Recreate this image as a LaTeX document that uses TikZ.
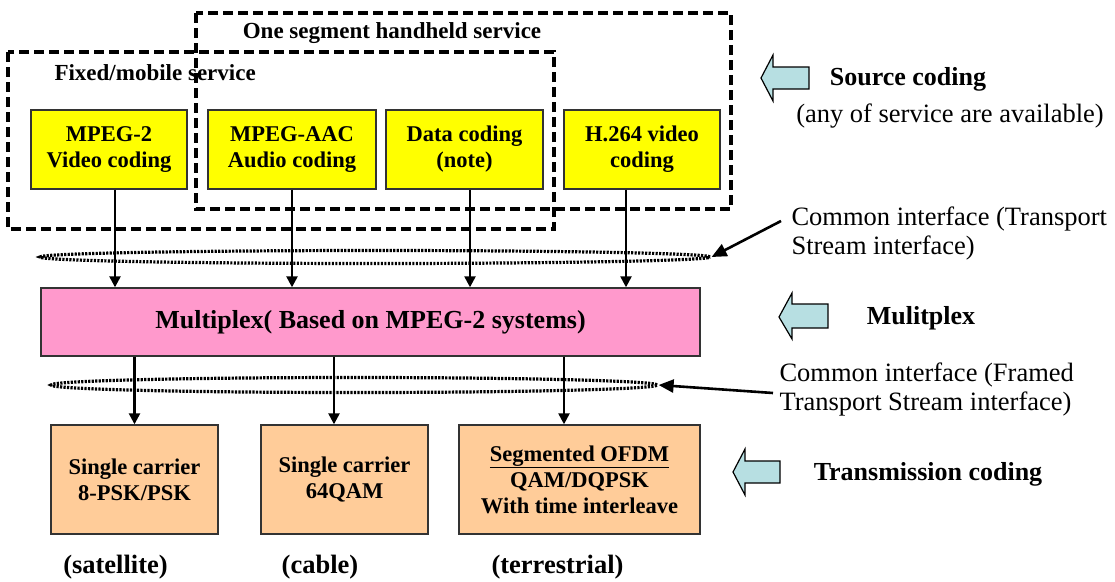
\documentclass[tikz,border=0pt]{standalone}
\usepackage{fontspec}
\setmainfont{Liberation Serif}
\usetikzlibrary{shapes.geometric,arrows.meta}
\newcommand\setfs[2]{\fontsize{#1}{#2}\selectfont}
\definecolor{yel}{HTML}{FFFF00}
\definecolor{pinkmux}{HTML}{FF99CC}
\definecolor{orng}{HTML}{FFCC99}
\definecolor{blk}{HTML}{B7DFE2}
\begin{document}
\begin{tikzpicture}[x=1pt,y=-1pt,
  dashbox/.style={line width=3.4pt,dash pattern=on 10pt off 5pt},
  ybox/.style={draw=black!80,line width=1.4pt,fill=yel,inner sep=0pt,minimum height=79pt,align=center,font=\setfs{22.5}{26}\bfseries},
  obox/.style={draw=black!80,line width=1.4pt,fill=orng,inner sep=0pt,minimum height=109pt,align=center,font=\setfs{22.5}{26}\bfseries},
  dotell/.style={ellipse,draw,line width=3.2pt,dash pattern=on 2.2pt off 1.3pt,inner sep=0pt},
  arr/.style={line width=2.4pt,-{Triangle[length=11pt,width=11pt]}},
  tarr/.style={line width=2.6pt,-{Triangle[length=15pt,width=13pt]}},
  blockarr/.style={draw=black,line width=1.2pt,fill=blk,line join=miter},
  hd/.style={font=\setfs{26}{29}\bfseries},
  rg/.style={font=\setfs{26.5}{29}},
  lbl/.style={font=\setfs{23}{26}\bfseries}
]
\useasboundingbox (0,0) rectangle (1115,581);
% service containers
\draw[dashbox] (8,52) rectangle (554,229);
\draw[dashbox] (196,13) rectangle (731,209);
\node[lbl] (seglbl) at (392,33) {One segment handheld service};
\node[lbl,anchor=west] (fixlbl) at (51,73) {Fixed/mobile service};
% source coding boxes
\node[ybox,minimum width=156pt] (m2) at (109,149.5) {MPEG-2\\Video coding};
\node[ybox,minimum width=168pt] (aac) at (292,149.5) {MPEG-AAC\\Audio coding};
\node[ybox,minimum width=157pt] (dat) at (464.5,149.5) {Data coding\\(note)};
\node[ybox,minimum width=156pt] (h264) at (642,149.5) {H.264 video\\coding};
% multiplex
\node[draw=black!80,line width=1.4pt,fill=pinkmux,inner sep=0pt,minimum width=659pt,minimum height=68pt,font=\setfs{26}{29}\bfseries] (mux) at (370.5,322) {Multiplex( Based on MPEG-2 systems)};
% transmission boxes
\node[obox,minimum width=167pt] (sat) at (134.5,479.5) {Single carrier\\8-PSK/PSK};
\node[obox,minimum width=167pt] (cab) at (344.5,479.5) {Single carrier\\64QAM};
\node[obox,minimum width=241pt] (ter) at (579.5,479.5) {\underline{Segmented OFDM}\\QAM/DQPSK\\With time interleave};
% interfaces
\node[dotell,minimum width=670pt,minimum height=13pt] (ell1) at (375,257) {};
\node[dotell,minimum width=606pt,minimum height=15pt] (ell2) at (354,385) {};
% vertical connectors
\draw[arr] ([xshift=6pt]m2.south) -- ([xshift=6pt]m2.south |- mux.north);
\draw[arr] (aac.south) -- (aac.south |- mux.north);
\draw[arr] ([xshift=5.5pt]dat.south) -- ([xshift=5.5pt]dat.south |- mux.north);
\draw[arr] ([xshift=-16pt]h264.south) -- ([xshift=-16pt]h264.south |- mux.north);
\draw[arr] (sat.north |- mux.south) -- (sat.north);
\draw[arr] ([xshift=-10.5pt]cab.north |- mux.south) -- ([xshift=-10.5pt]cab.north);
\draw[arr] ([xshift=-15.5pt]ter.north |- mux.south) -- ([xshift=-15.5pt]ter.north);
% bottom labels
\node[font=\setfs{26.5}{29}\bfseries] (lsat) at (115.5,567) {(satellite)};
\node[font=\setfs{26.5}{29}\bfseries] (lcab) at (320,567) {(cable)};
\node[font=\setfs{26.5}{29}\bfseries] (lter) at (557.5,567) {(terrestrial)};
% right side
\draw[blockarr] (761,78) -- (773,55) -- (773,67) -- (809,67) -- (809,89) -- (773,89) -- (773,101) -- cycle;
\draw[blockarr] (779,317) -- (792,293) -- (792,304) -- (828,304) -- (828,328) -- (792,328) -- (792,339) -- cycle;
\draw[blockarr] (733,472) -- (745,449) -- (745,461) -- (780,461) -- (780,483) -- (745,483) -- (745,495) -- cycle;
\node[hd] (src) at (908,79) {Source coding};
\node[rg] (any) at (950,116) {(any of service are available)};
\node[rg,align=left,anchor=west] (ci1) at (788,233) {Common interface (Transport\\Stream interface)};
\node[hd] (muxl) at (921,318) {Mulitplex};
\node[rg,align=left,anchor=west] (ci2) at (776,389) {Common interface (Framed\\Transport Stream interface)};
\node[hd] (trl) at (928,474) {Transmission coding};
\coordinate (c1) at (781,221);
\coordinate (c2) at (773,393);
\draw[tarr] (c1) -- (ell1.east);
\draw[tarr] (c2) -- (ell2.east);
\end{tikzpicture}
\end{document}
